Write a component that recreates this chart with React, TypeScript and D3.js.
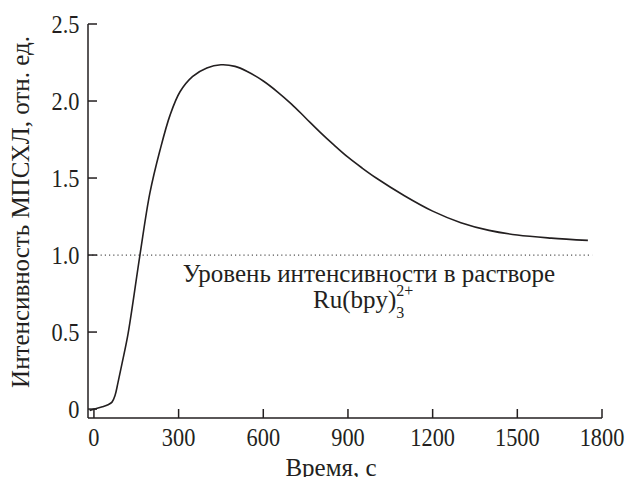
import React from 'react';
import { scaleLinear, line, curveCatmullRom } from 'd3';

const width = 628;
const height = 477;
const margin = { left: 88, right: 26, top: 24, bottom: 59 };

// time, s
const times = [-15, 0, 30, 50, 64, 75, 85, 100, 121, 163, 198, 234, 270, 305, 350, 400, 450, 500, 545, 600, 650, 700, 750, 800, 850, 900, 950, 1000, 1100, 1200, 1300, 1400, 1500, 1620, 1750];
// intensity, rel. units
const intensity = [-0.01, 0.0, 0.015, 0.028, 0.045, 0.09, 0.17, 0.3, 0.49, 1.0, 1.4, 1.68, 1.91, 2.06, 2.16, 2.215, 2.235, 2.225, 2.19, 2.13, 2.06, 1.98, 1.89, 1.8, 1.715, 1.635, 1.565, 1.5, 1.385, 1.285, 1.21, 1.16, 1.13, 1.11, 1.095];

const xTicks = [0, 300, 600, 900, 1200, 1500, 1800];
const yTicks = [0, 0.5, 1.0, 1.5, 2.0, 2.5];
const yTickLabels = ['0', '0.5', '1.0', '1.5', '2.0', '2.5'];
const solutionLevel = 1.0;

const font = 'Liberation Serif';
const ink = '#231f20';

const x = scaleLinear().domain([-21, 1800]).range([margin.left, width - margin.right]);
const y = scaleLinear().domain([-0.058, 2.5]).range([height - margin.bottom, margin.top]);

const App = () => {
    const pts = times.map((t, i) => [t, intensity[i]] as [number, number]);
    const path = line<[number, number]>()
        .x(d => x(d[0]))
        .y(d => y(d[1]))
        .curve(curveCatmullRom.alpha(0.5))(pts);

    const x0 = x(-21);
    const y0 = y(-0.058);
    const txt = { fontFamily: font };

    return (
        <svg
            width={width}
            height={height}
            fontFamily={font}
            style={{ position: 'absolute', left: 0, top: 0, background: '#fff' }}
        >
            <style>{`text, tspan { font-family: 'Liberation Serif', 'Times New Roman', serif; }`}</style>

            {/* dotted level line */}
            <line
                x1={x0} x2={x(1765)}
                y1={y(solutionLevel)} y2={y(solutionLevel)}
                stroke="#555" strokeWidth={1.2} strokeDasharray="1.2,3"
            />

            {/* axes */}
            <line x1={x0} x2={x(1800)} y1={y0} y2={y0} stroke={ink} strokeWidth={1.5} />
            <line x1={x0} x2={x0} y1={y0} y2={y(2.5)} stroke={ink} strokeWidth={1.5} />

            {xTicks.map(t => (
                <g key={t} transform={`translate(${x(t)}, ${y0})`}>
                    <line y2={-9} stroke={ink} strokeWidth={1.5} />
                    <text
                        y={28}
                        textAnchor="middle"
                        transform="scale(0.86, 1)"
                        fill={ink}
                        fontSize={26}
                        style={txt}
                    >{t}</text>
                </g>
            ))}

            {yTicks.map((v, i) => (
                <g key={v} transform={`translate(${x0}, ${y(v)})`}>
                    <line x2={9} stroke={ink} strokeWidth={1.5} />
                    <text
                        x={-10}
                        dy="0.35em"
                        textAnchor="end"
                        transform="scale(0.86, 1)"
                        fill={ink}
                        fontSize={26}
                        style={txt}
                    >{yTickLabels[i]}</text>
                </g>
            ))}

            {/* curve */}
            <path d={path} fill="none" stroke={ink} strokeWidth={1.6} />

            {/* annotation */}
            <text x={369} y={282} textAnchor="middle" fill={ink} fontSize={25} style={txt}>
                Уровень интенсивности в растворе
            </text>
            <text x={313} y={308} fill={ink} fontSize={25} style={txt}>
                Ru(bpy)
                <tspan dy={10} fontSize={16}>3</tspan>
                <tspan dx={-8} dy={-22} fontSize={16}>2+</tspan>
            </text>

            {/* axis titles */}
            <text x={x(840)} y={476} textAnchor="middle" fill={ink} fontSize={25} style={txt}>
                Время, с
            </text>
            <text
                transform="translate(29, 212) rotate(-90)"
                textAnchor="middle"
                fill={ink}
                fontSize={25}
                style={txt}
            >
                Интенсивность МПСХЛ, отн. ед.
            </text>
        </svg>
    );
};

export default App;
